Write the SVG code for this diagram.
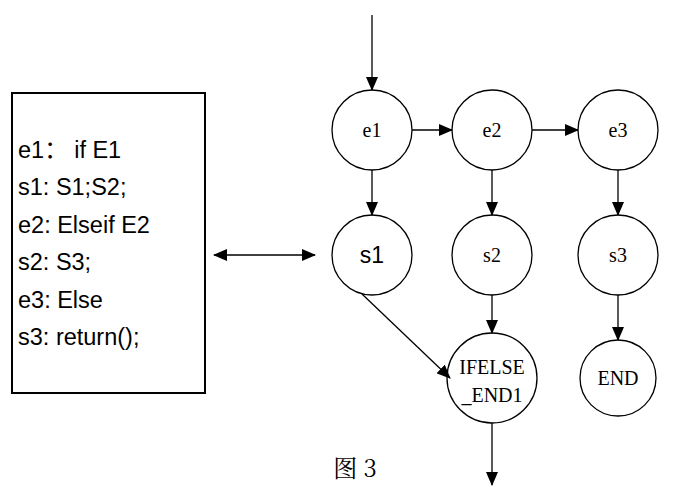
<svg xmlns="http://www.w3.org/2000/svg" width="682" height="500" viewBox="0 0 682 500">
<style>
.n{fill:#fff;stroke:#000;stroke-width:1.3}
.t{font-family:"Liberation Serif",serif;font-size:20px;text-anchor:middle}
.c{stroke:#000;stroke-width:1.3;fill:none;marker-end:url(#a)}
.code{font-family:"Liberation Sans","Noto Sans CJK SC",sans-serif;font-size:23.5px}
</style>
<defs><marker id="a" markerWidth="14" markerHeight="12" refX="13" refY="6" orient="auto-start-reverse" markerUnits="userSpaceOnUse"><path d="M0,0 L14,6 L0,12 z"/></marker></defs>
<rect width="682" height="500" fill="#fff"/>
<g id="code"><rect x="12" y="93" width="193" height="300" fill="#fff" stroke="#000" stroke-width="2"/>
<text class="code" x="18" y="158">e1：  if E1</text>
<text class="code" x="18" y="195">s1: S1;S2;</text>
<text class="code" x="18" y="233">e2: Elseif E2</text>
<text class="code" x="18" y="270">s2: S3;</text>
<text class="code" x="18" y="308">e3: Else</text>
<text class="code" x="18" y="345">s3: return();</text></g>
<g id="e1"><circle class="n" cx="372" cy="130" r="40"/><text class="t" x="372" y="137">e1</text></g>
<g id="e2"><circle class="n" cx="492" cy="130" r="40"/><text class="t" x="492" y="137">e2</text></g>
<g id="e3"><circle class="n" cx="618" cy="130" r="40"/><text class="t" x="618" y="137">e3</text></g>
<g id="s1"><circle class="n" cx="372" cy="255" r="40"/><text x="372" y="263" text-anchor="middle" font-family="Liberation Sans,sans-serif" font-size="23">s1</text></g>
<g id="s2"><circle class="n" cx="492" cy="255" r="40"/><text class="t" x="492" y="262">s2</text></g>
<g id="s3"><circle class="n" cx="618" cy="255" r="40"/><text class="t" x="618" y="262">s3</text></g>
<g id="ifelse"><circle class="n" cx="492" cy="378" r="45"/><text class="t" x="492" y="374">IFELSE</text><text class="t" x="492" y="402">_END1</text></g>
<g id="end"><circle class="n" cx="618" cy="378" r="38"/><text class="t" x="618" y="385">END</text></g>
<g id="connectors">
<line class="c" x1="372" y1="15" x2="372" y2="90"/>
<line class="c" x1="412" y1="130" x2="452" y2="130"/>
<line class="c" x1="532" y1="130" x2="578" y2="130"/>
<line class="c" x1="372" y1="170" x2="372" y2="215"/>
<line class="c" x1="492" y1="170" x2="492" y2="215"/>
<line class="c" x1="618" y1="170" x2="618" y2="215"/>
<line class="c" x1="362" y1="294" x2="450" y2="378"/>
<line class="c" x1="492" y1="295" x2="492" y2="333"/>
<line class="c" x1="618" y1="295" x2="618" y2="340"/>
<line class="c" x1="492" y1="423" x2="492" y2="485"/>
<line class="c" x1="214" y1="255" x2="315" y2="255" marker-start="url(#a)"/>
</g>
<text x="355" y="477" text-anchor="middle" font-family="Noto Serif CJK SC,Liberation Serif,Noto Sans CJK SC,serif" font-size="24">图 3</text>
</svg>
